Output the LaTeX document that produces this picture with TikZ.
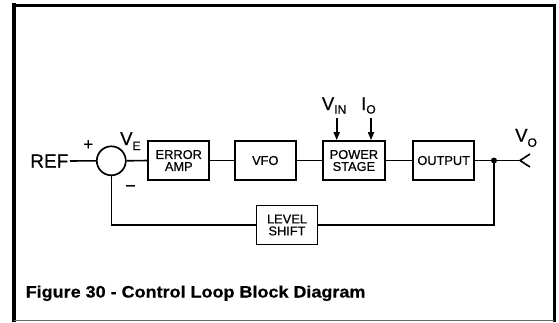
\documentclass[tikz,border=0pt]{standalone}
\usepackage{fontspec}
\setmainfont{Liberation Sans}[FakeBold=0.5]
\usetikzlibrary{arrows.meta}
\newcommand{\sbs}[2]{\raisebox{-#1pt}{\fontsize{12}{12}\selectfont #2}}
\begin{document}
\begin{tikzpicture}[x=1pt,y=-1pt,
  blk/.style={draw,line width=1.7pt,minimum width=61pt,minimum height=39pt,inner sep=0pt,align=center,font=\fontsize{12.8}{12}\selectfont},
  wire/.style={line width=1.6pt},
  lbl/.style={inner sep=0pt,anchor=base west,font=\fontsize{18.5}{18.5}\selectfont},
  arr/.style={wire,-{Triangle[length=8pt,width=6pt]}}]
\useasboundingbox (0,0) rectangle (559,322);
% frame
\draw[line width=4pt] (14,321.5) -- (14,3);
\draw[line width=3pt] (12,5) -- (556,5);
\draw[line width=3pt] (554.3,3.5) -- (554.3,321.5);
\draw[line width=0.8pt,black!60] (14,320.8) -- (554.3,320.8);
% blocks
\node[circle,draw,line width=1.7pt,minimum size=29pt,inner sep=0pt] (sum) at (111.3,160.8) {};
\node[blk] (err) at (178.8,160.5) {ERROR\\AMP};
\node[blk] (vfo) at (265.3,160.5) {VFO};
\node[blk,minimum width=62pt] (pow) at (353.9,160.5) {POWER\\STAGE};
\node[blk] (out) at (443.7,160.5) {OUTPUT};
\node[blk] (lvl) at (287,225) {LEVEL\\SHIFT};
% labels
\node[inner sep=1.5pt,anchor=east,font=\fontsize{19}{19}\selectfont] (ref) at (70,161) {REF};
\node[inner sep=0pt,font=\fontsize{17}{17}\selectfont] (plus) at (88.3,145) {+};
\node[inner sep=0pt,font=\fontsize{18}{18}\selectfont] (minus) at (130.5,188.5) {\char"2212};
\node[lbl] (ve) at (120,145) {V\sbs{5}{E}};
\node[lbl] (vin) at (321.7,110) {V\sbs{3.5}{IN}};
\node[lbl] (io) at (361,110) {I\sbs{3.5}{O}};
\node[lbl] (vo) at (515,141.7) {V\sbs{5}{O}};
\node[inner sep=0pt,anchor=base west,font=\bfseries\fontsize{16.5}{16.5}\selectfont] (cap) at (25.5,297.5) {\scalebox{1.09}[1]{Figure 30 - Control Loop Block Diagram}};
% coordinates
\coordinate (dot) at (494,160.5);
\coordinate (vot) at (520,160.5);
\coordinate (vou) at (530,154);
\coordinate (vod) at (530,167);
\coordinate (fbl) at (111.3,225);
\coordinate (fbr) at (494,225);
\coordinate (ina) at (336.7,118);
\coordinate (ioa) at (371,118);
% wires
\draw[wire] (ref.east) -- (sum.west);
\draw[wire] (sum.east) -- (err.west);
\draw[wire] (err.east) -- (vfo.west);
\draw[wire] (vfo.east) -- (pow.west);
\draw[wire] (pow.east) -- (out.west);
\draw[wire] (out.east) -- (dot) -- (vot);
\draw[wire] (vou) -- (vot) -- (vod);
\draw[wire] (dot) -- (fbr) -- (lvl.east);
\draw[wire] (lvl.west) -- (fbl) -- (sum.south);
\fill (dot) circle (3pt);
\draw[arr] (ina) -- (ina |- pow.north);
\draw[arr] (ioa) -- (ioa |- pow.north);
\end{tikzpicture}
\end{document}
